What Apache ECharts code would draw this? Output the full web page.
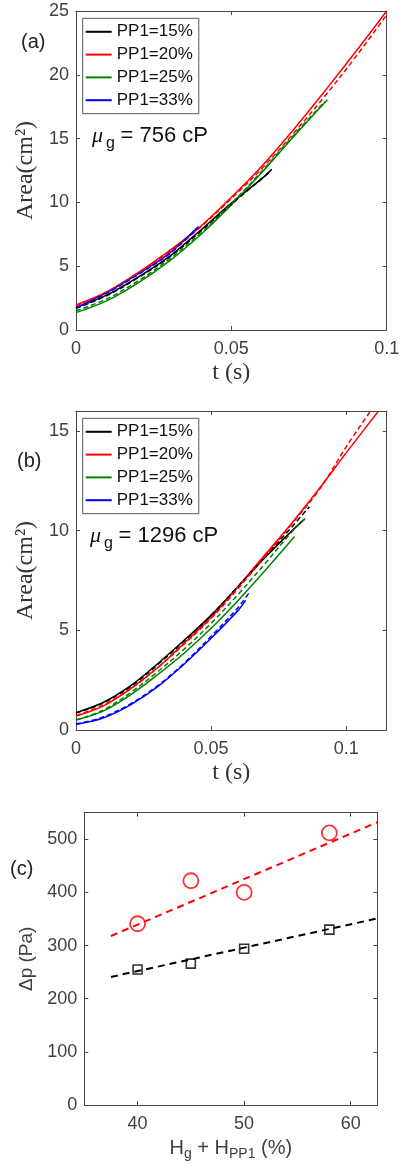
<!DOCTYPE html>
<html>
<head>
<meta charset="utf-8">
<script src="https://cdn.jsdelivr.net/npm/echarts@6/dist/echarts.min.js"></script>
<style>html,body{margin:0;padding:0;background:#fff}#c{width:403px;height:1169px}</style>
</head>
<body>
<div id="c"></div>
<script>
// ---------- data ----------
const legendNames = ['PP1=15%', 'PP1=20%', 'PP1=25%', 'PP1=33%'];

// panel (a): mu_g = 756 cP, [t (s), Area (cm^2)]
const a15Exp = [[0,1.75],[0.01,2.75],[0.02,4.15],[0.03,5.75],[0.04,7.8],[0.05,9.95],[0.06,11.9],[0.063,12.6]];
const a15Fit = [[0,1.7],[0.01,2.7],[0.02,4.1],[0.03,5.7],[0.04,7.7],[0.05,9.85],[0.06,11.9],[0.0625,12.4]];
const a20Exp = [[0,1.96],[0.01,3.0],[0.02,4.5],[0.03,6.2],[0.04,8.1],[0.05,10.4],[0.06,12.9],[0.07,15.7],[0.08,18.7],[0.09,21.8],[0.1,25.0]];
const a20Fit = [[0,1.9],[0.01,2.95],[0.02,4.45],[0.03,6.1],[0.04,8.05],[0.05,10.3],[0.06,12.7],[0.07,15.4],[0.08,18.3],[0.09,21.4],[0.1,24.7]];
const a25Exp = [[0,1.36],[0.01,2.3],[0.02,3.7],[0.03,5.4],[0.04,7.45],[0.05,9.8],[0.06,12.4],[0.07,15.15],[0.0809,18.05]];
const a25Fit = [[0,1.5],[0.01,2.45],[0.02,3.85],[0.03,5.55],[0.04,7.55],[0.05,9.9],[0.06,12.5],[0.07,15.25],[0.08,17.9]];
const a33Exp = [[0,1.75],[0.01,2.95],[0.02,4.4],[0.03,6.0],[0.0394,8.1]];
const a33Fit = [[0,1.7],[0.01,2.9],[0.02,4.35],[0.03,5.95],[0.039,7.95]];

// panel (b): mu_g = 1296 cP
const b15Exp = [[0,0.87],[0.01,1.38],[0.02,2.2],[0.03,3.3],[0.04,4.5],[0.05,5.75],[0.06,7.2],[0.07,8.65],[0.08,10.0],[0.0844,10.55]];
const b15Fit = [[0,0.85],[0.01,1.35],[0.02,2.15],[0.03,3.25],[0.04,4.45],[0.05,5.75],[0.06,7.2],[0.07,8.7],[0.08,10.2],[0.0864,11.2]];
const b20Exp = [[0,0.7],[0.01,1.2],[0.02,2.05],[0.03,3.1],[0.04,4.35],[0.05,5.65],[0.06,7.2],[0.07,8.8],[0.08,10.4],[0.09,12.1],[0.1,13.9],[0.1117,15.95]];
const b20Fit = [[0,0.72],[0.01,1.25],[0.02,2.05],[0.03,3.1],[0.04,4.3],[0.05,5.6],[0.06,7.1],[0.07,8.7],[0.08,10.35],[0.09,12.05],[0.1,14.2],[0.109,16.0]];
const b25Exp = [[0,0.5],[0.01,0.95],[0.02,1.75],[0.03,2.75],[0.04,3.85],[0.05,5.1],[0.06,6.5],[0.07,8.0],[0.0809,9.7]];
const b25Fit = [[0,0.5],[0.01,1.0],[0.02,1.85],[0.03,2.9],[0.04,4.05],[0.05,5.35],[0.06,6.8],[0.07,8.35],[0.08,9.95],[0.0848,10.6]];
const b33Exp = [[0,0.28],[0.01,0.6],[0.02,1.25],[0.03,2.15],[0.04,3.3],[0.05,4.6],[0.06,6.0],[0.0628,6.5]];
const b33Fit = [[0,0.3],[0.01,0.65],[0.02,1.3],[0.03,2.2],[0.04,3.35],[0.05,4.7],[0.06,6.15],[0.0644,6.95]];

// panel (c): H_g + H_PP1 (%) vs pressure difference (Pa)
const hTotal = [40, 45, 50, 58];
const dpRed = [341, 422, 400, 512];
const dpBlack = [255, 266, 294, 330];
const fitH = [37.5, 62.5];
const fitRed = [318, 532];
const fitBlack = [241, 351];

// tick labels
const xTicksA = [0, 0.05, 0.1];
const yTicksA = [0, 5, 10, 15, 20, 25];
const xTicksB = [0, 0.05, 0.1];
const yTicksB = [0, 5, 10, 15];
const xTicksC = [40, 50, 60];
const yTicksC = [0, 100, 200, 300, 400, 500];

// ---------- styles ----------
const colors = ['#000000', '#ff0000', '#008000', '#0000ff'];
const axisCol = '#4a4a4a';
const labelCol = '#404040';
const sans = 'Liberation Sans, Arial, sans-serif';
const serif = 'Liberation Serif, Times New Roman, serif';

const chart = echarts.init(document.getElementById('c'), null, {renderer: 'canvas', width: 403, height: 1169});

function mainX(grid, min, max, ticks, name, nameStyle, gap) {
  return {
    type: 'value', gridIndex: grid, min: min, max: max, position: 'bottom',
    name: name, nameLocation: 'middle', nameGap: gap, nameTextStyle: nameStyle,
    axisLine: {show: true, onZero: false, lineStyle: {color: axisCol, width: 1}},
    axisTick: {show: true, inside: true, length: 4, customValues: ticks, lineStyle: {color: axisCol}},
    axisLabel: {show: true, customValues: ticks, margin: 10, color: labelCol, fontFamily: sans, fontSize: 18},
    splitLine: {show: false}
  };
}
function mainY(grid, min, max, ticks, name, nameStyle, gap) {
  return {
    type: 'value', gridIndex: grid, min: min, max: max, position: 'left',
    name: name, nameLocation: 'middle', nameGap: gap, nameTextStyle: nameStyle,
    axisLine: {show: true, onZero: false, lineStyle: {color: axisCol, width: 1}},
    axisTick: {show: true, inside: true, length: 4, customValues: ticks, lineStyle: {color: axisCol}},
    axisLabel: {show: true, customValues: ticks, margin: 7, color: labelCol, fontFamily: sans, fontSize: 18},
    splitLine: {show: false}
  };
}
function boxX(grid, min, max, ticks) {
  return {
    type: 'value', gridIndex: grid, min: min, max: max, position: 'top',
    axisLine: {show: true, onZero: false, lineStyle: {color: axisCol, width: 1}},
    axisTick: {show: true, inside: true, length: 4, customValues: ticks, lineStyle: {color: axisCol}},
    axisLabel: {show: false}, splitLine: {show: false}
  };
}
function boxY(grid, min, max, ticks) {
  return {
    type: 'value', gridIndex: grid, min: min, max: max, position: 'right',
    axisLine: {show: true, onZero: false, lineStyle: {color: axisCol, width: 1}},
    axisTick: {show: true, inside: true, length: 4, customValues: ticks, lineStyle: {color: axisCol}},
    axisLabel: {show: false}, splitLine: {show: false}
  };
}

const serifTitle = {fontFamily: serif, fontSize: 24, color: '#333333'};

function lineSeries(name, data, xi, yi, color, dashed) {
  return {
    name: name, type: 'line', data: data, xAxisIndex: xi, yAxisIndex: yi,
    showSymbol: false, symbol: 'none', smooth: 0.35, animation: false,
    itemStyle: {color: color},
    lineStyle: {color: color, width: 1.5, type: dashed ? [5, 3] : 'solid'},
    z: dashed ? 3 : 2
  };
}

const aExp = [a15Exp, a20Exp, a25Exp, a33Exp];
const aFit = [a15Fit, a20Fit, a25Fit, a33Fit];
const bExp = [b15Exp, b20Exp, b25Exp, b33Exp];
const bFit = [b15Fit, b20Fit, b25Fit, b33Fit];

const series = [];
for (let i = 0; i < 4; i++) {
  series.push(lineSeries(legendNames[i], aExp[i], 0, 0, colors[i], false));
  series.push(lineSeries(legendNames[i] + ' model', aFit[i], 0, 0, colors[i], true));
}
for (let i = 0; i < 4; i++) {
  series.push(lineSeries(legendNames[i], bExp[i], 2, 2, colors[i], false));
  series.push(lineSeries(legendNames[i] + ' model', bFit[i], 2, 2, colors[i], true));
}
// panel (c)
series.push({
  name: 'fit red', type: 'line', xAxisIndex: 4, yAxisIndex: 4, symbol: 'none', animation: false,
  data: fitH.map((h, i) => [h, fitRed[i]]),
  lineStyle: {color: '#ff0000', width: 2, type: [7, 5]}
});
series.push({
  name: 'fit black', type: 'line', xAxisIndex: 4, yAxisIndex: 4, symbol: 'none', animation: false,
  data: fitH.map((h, i) => [h, fitBlack[i]]),
  lineStyle: {color: '#000000', width: 2, type: [7, 5]}
});
series.push({
  name: 'red data', type: 'scatter', xAxisIndex: 4, yAxisIndex: 4, animation: false,
  symbol: 'circle', symbolSize: 15,
  data: hTotal.map((h, i) => [h, dpRed[i]]),
  itemStyle: {color: 'rgba(0,0,0,0)', borderColor: '#ff0000', borderWidth: 1.8}, z: 5
});
series.push({
  name: 'black data', type: 'scatter', xAxisIndex: 4, yAxisIndex: 4, animation: false,
  symbol: 'rect', symbolSize: 9,
  data: hTotal.map((h, i) => [h, dpBlack[i]]),
  itemStyle: {color: 'rgba(0,0,0,0)', borderColor: '#000000', borderWidth: 1.6}, z: 5
});

function legendAt(top) {
  return {
    show: true, left: 82.7, top: top, orient: 'vertical',
    data: legendNames, icon: 'rect', itemWidth: 26, itemHeight: 2, itemGap: 5.8,
    padding: [5, 6, 5, 3], borderColor: '#555555', borderWidth: 1, backgroundColor: '#ffffff',
    textStyle: {fontFamily: sans, fontSize: 17, color: '#111111', lineHeight: 17},
    selectedMode: false, z: 10
  };
}

function muText(x, y, rest) {
  return [
    {type: 'text', left: x, top: y - 12, style: {text: 'μ', fontFamily: serif, fontStyle: 'italic', fontSize: 22, fill: '#111111'}},
    {type: 'text', left: x + 14, top: y - 1, style: {text: 'g', fontFamily: sans, fontSize: 16, fill: '#111111'}},
    {type: 'text', left: x + 28.5, top: y - 12, style: {text: rest, fontFamily: sans, fontSize: 22, fill: '#111111'}}
  ];
}

const option = {
  backgroundColor: '#ffffff',
  animation: false,
  grid: [
    {left: 76, top: 11, width: 310.7, height: 319},
    {left: 76, top: 411, width: 310.7, height: 319},
    {left: 84.3, top: 812.7, width: 293, height: 292.3}
  ],
  xAxis: [
    mainX(0, 0, 0.1, xTicksA, 't (s)', serifTitle, 31),
    boxX(0, 0, 0.1, xTicksA),
    mainX(1, 0, 0.115, xTicksB, 't (s)', serifTitle, 31),
    boxX(1, 0, 0.115, xTicksB),
    mainX(2, 35, 62.5, xTicksC, '{n|H}{s|g}{n| + H}{s|PP1}{n| (%)}', {
      fontFamily: sans, fontSize: 20, color: labelCol,
      rich: {
        n: {fontFamily: sans, fontSize: 20, color: labelCol},
        s: {fontFamily: sans, fontSize: 14, color: labelCol, padding: [12, 0, 0, 0]}
      }
    }, 30),
    boxX(2, 35, 62.5, xTicksC)
  ],
  yAxis: [
    mainY(0, 0, 25, yTicksA, 'Area(cm²)', serifTitle, 32),
    boxY(0, 0, 25, yTicksA),
    mainY(1, 0, 16, yTicksB, 'Area(cm²)', serifTitle, 32),
    boxY(1, 0, 16, yTicksB),
    mainY(2, 0, 550, yTicksC, 'Δp (Pa)', {fontFamily: sans, fontSize: 19, color: labelCol}, 36),
    boxY(2, 0, 550, yTicksC)
  ],
  legend: [legendAt(18.3), legendAt(418.3)],
  series: series,
  graphic: [
    {type: 'text', left: 21, top: 32, style: {text: '(a)', fontFamily: sans, fontSize: 20, fill: '#222222'}},
    {type: 'text', left: 17, top: 451, style: {text: '(b)', fontFamily: sans, fontSize: 20, fill: '#222222'}},
    {type: 'text', left: 10, top: 859, style: {text: '(c)', fontFamily: sans, fontSize: 20, fill: '#222222'}}
  ].concat(muText(92, 137, '= 756 cP')).concat(muText(90, 537, '= 1296 cP'))
};
chart.setOption(option);
</script>
</body>
</html>
